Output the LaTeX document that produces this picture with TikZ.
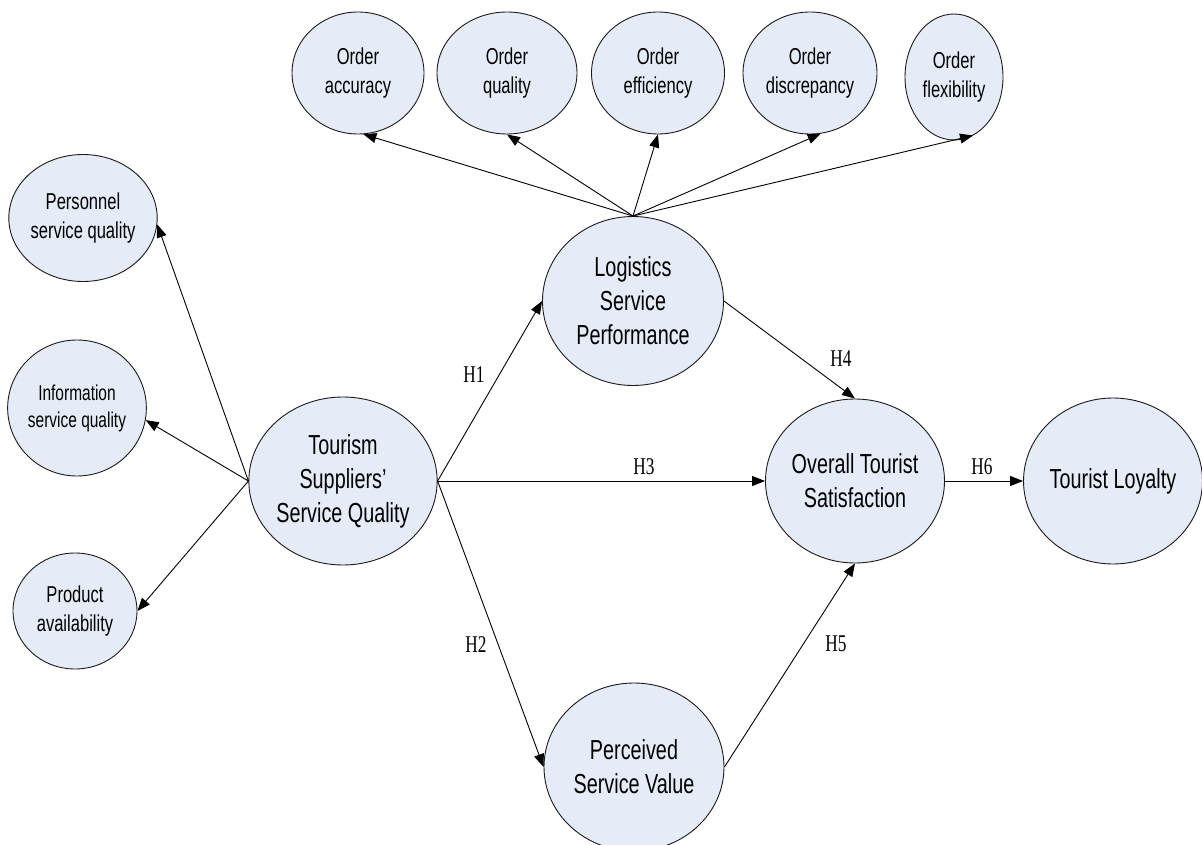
\documentclass[tikz,border=0pt]{standalone}
\usepackage{fontspec}
\newfontfamily\narrowsans[FakeStretch=0.72]{Liberation Sans}
\newfontfamily\narrowserif[FakeStretch=0.72]{Liberation Serif}
\usetikzlibrary{shapes.geometric,arrows.meta}
\definecolor{bubblefill}{HTML}{E6ECF7}
\definecolor{bubbleline}{HTML}{1A1A1A}
\tikzset{
  bubble/.style={ellipse, draw=bubbleline, line width=0.9pt, fill=bubblefill, inner sep=0pt, align=center},
  bigtxt/.style={font=\narrowsans\fontsize{27.5}{34}\selectfont},
  smalltxt/.style={font=\narrowsans\fontsize{23}{29}\selectfont},
  arr/.style={line width=0.9pt, -{Triangle[length=13pt,width=10pt]}},
  hlabel/.style={font=\narrowserif\fontsize{24}{24}\selectfont, inner sep=0pt}
}
\begin{document}
\begin{tikzpicture}[x=1pt,y=-1pt]
\useasboundingbox (0,0) rectangle (1202,845);
% top indicators
\node[bubble,smalltxt,minimum width=132pt,minimum height=122pt] (acc) at (358,73) {Order\\accuracy};
\node[bubble,smalltxt,minimum width=140pt,minimum height=122pt] (qua) at (507,73) {Order\\quality};
\node[bubble,smalltxt,minimum width=133pt,minimum height=122pt] (eff) at (658,73) {Order\\efficiency};
\node[bubble,smalltxt,minimum width=134pt,minimum height=122pt] (dis) at (810,73) {Order\\discrepancy};
\node[bubble,smalltxt,minimum width=98pt,minimum height=126pt] (fle) at (954,77) {Order\\flexibility};
% left indicators
\node[bubble,smalltxt,minimum width=137pt,minimum height=127pt] (per) at (83,218) {Personnel\\service quality};
\node[bubble,font=\narrowsans\fontsize{21.5}{27}\selectfont,minimum width=132pt,minimum height=136pt] (inf) at (77,408) {Information\\service quality};
\node[bubble,smalltxt,minimum width=124pt,minimum height=116pt] (pro) at (75,611) {Product\\availability};
% constructs
\node[bubble,bigtxt,minimum width=180pt,minimum height=168pt] (tsq) at (343,481) {Tourism\\Suppliers’\\Service Quality};
\node[bubble,bigtxt,minimum width=181pt,minimum height=169pt] (log) at (633,301) {Logistics\\Service\\Performance};
\node[bubble,bigtxt,minimum width=179pt,minimum height=164pt] (ots) at (855,481) {Overall Tourist\\Satisfaction};
\node[bubble,bigtxt,minimum width=178pt,minimum height=166pt] (tlo) at (1113,481) {Tourist Loyalty};
\node[bubble,bigtxt,minimum width=180pt,minimum height=168pt] (psv) at (634,767) {Perceived\\Service Value};
% indicator arrows
\draw[arr] (log.north) -- (acc.-85);
\draw[arr] (log.north) -- (qua.south);
\draw[arr] (log.north) -- (eff.south);
\draw[arr] (log.north) -- (dis.-80);
\draw[arr] (log.north) -- (fle.-72);
\draw[arr] (tsq.west) -- (per.-5);
\draw[arr] (tsq.west) -- (inf.-10);
\draw[arr] (tsq.west) -- (pro.east);
% hypotheses
\draw[arr] (tsq.east) -- (log.west);
\draw[arr] (tsq.east) -- (ots.west);
\draw[arr] (tsq.east) -- (psv.west);
\draw[arr] (log.east) -- (ots.north);
\draw[arr] (psv.east) -- (ots.south);
\draw[arr] (ots.east) -- (tlo.west);
\node[hlabel] (h1) at (474,375) {H1};
\node[hlabel] (h2) at (476,645) {H2};
\node[hlabel] (h3) at (644,467) {H3};
\node[hlabel] (h4) at (841,359) {H4};
\node[hlabel] (h5) at (836,644) {H5};
\node[hlabel] (h6) at (982,467) {H6};
\end{tikzpicture}
\end{document}
